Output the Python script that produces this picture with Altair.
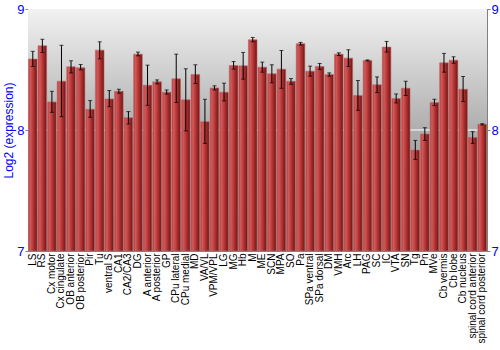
import altair as alt
import pandas as pd

regions = ["LS", "RS", "Cx motor", "Cx cingulate", "OB anterior", "OB posterior", "Pir", "Tu",
           "ventral S", "CA1", "CA2/CA3", "DG", "A anterior", "A posterior", "GP", "CPu lateral",
           "CPu medial", "MD", "VA/VL", "VPM/VPL", "LG", "MG", "Hb", "M", "ME", "SCN", "MPA", "SO",
           "Pa", "SPa ventral", "SPa dorsal", "DM", "VMH", "Arc", "LH", "PAG", "SC", "IC", "VTA",
           "SN", "Tg", "Pn", "MVe", "Cb vermis", "Cb lobe", "Cb nucleus", "spinal cord anterior",
           "spinal cord posterior"]
means = [8.586, 8.696, 8.232, 8.403, 8.522, 8.514, 8.171, 8.660,
         8.257, 8.320, 8.102, 8.627, 8.370, 8.398, 8.312, 8.423,
         8.249, 8.459, 8.069, 8.348, 8.312, 8.533, 8.530, 8.746,
         8.519, 8.464, 8.503, 8.403, 8.713, 8.486, 8.525, 8.459,
         8.627, 8.594, 8.285, 8.575, 8.373, 8.685, 8.260, 8.345,
         7.834, 7.967, 8.227, 8.555, 8.577, 8.337, 7.939, 8.047]
err_hi = [8.65, 8.75, 8.32, 8.70, 8.572, 8.541, 8.243, 8.729,
          8.326, 8.337, 8.152, 8.644, 8.536, 8.414, 8.331, 8.627,
          8.506, 8.539, 8.254, 8.365, 8.387, 8.566, 8.641, 8.765,
          8.561, 8.539, 8.657, 8.425, 8.724, 8.528, 8.550, 8.472,
          8.638, 8.663, 8.409, 8.579, 8.439, 8.732, 8.298, 8.403,
          7.914, 8.019, 8.254, 8.633, 8.605, 8.442, 7.986, 8.052]
err_lo = [8.525, 8.64, 8.146, 8.11, 8.472, 8.497, 8.105, 8.588,
          8.193, 8.304, 8.05, 8.613, 8.204, 8.381, 8.296, 8.227,
          7.992, 8.384, 7.889, 8.331, 8.240, 8.503, 8.420, 8.729,
          8.478, 8.390, 8.345, 8.378, 8.702, 8.445, 8.500, 8.445,
          8.616, 8.525, 8.163, 8.571, 8.309, 8.644, 8.224, 8.285,
          7.757, 7.914, 8.202, 8.478, 8.552, 8.235, 7.889, 8.042]
y_ticks = [7, 8, 9]

df = pd.DataFrame({"region": regions, "mean": means, "hi": err_hi, "lo": err_lo, "base": 7.0})
tick_df = pd.DataFrame({"v": y_ticks})

blue = "#0000ff"
xaxis = alt.Axis(labelAngle=270, labelFontSize=10, labelColor="#000000",
                 labelFont="Liberation Sans", ticks=False, domain=False,
                 labelPadding=2, labelAlign="right", labelBaseline="middle",
                 labelOverlap=False, labelLimit=200)
xenc = alt.X("region:N", sort=regions, title=None,
             scale=alt.Scale(paddingInner=0.1, paddingOuter=0.05), axis=xaxis)
yscale = alt.Scale(domain=[7, 9], nice=False, zero=False)


def yaxis(orient, title):
    kw = dict(orient=orient, labelColor=blue, labelFontSize=13, labelFont="Liberation Sans",
              values=y_ticks, labelExpr="round(datum.value) + ''", grid=False,
              domainColor="#808080", tickColor="#808080", tickSize=3, labelPadding=1,
              labelOverlap=False, labelFlush=False)
    if title:
        kw.update(title=title, titleColor=blue, titleFontSize=12, titleFont="Liberation Sans",
                  titleFontWeight="normal", titlePadding=1)
    else:
        kw.update(title=None)
    return alt.Axis(**kw)


bg = alt.Chart(df).mark_rect(
    fill=alt.Gradient(gradient="linear", x1=0, y1=0, x2=0, y2=1,
                      stops=[alt.GradientStop(offset=0, color="#f2f2f2"),
                             alt.GradientStop(offset=0.5, color="#aeaeae"),
                             alt.GradientStop(offset=1, color="#8a8a8a")])
).encode(x=alt.value(0), x2=alt.value("width"), y=alt.value(0), y2=alt.value("height"))

grid = alt.Chart(tick_df).mark_rule(color="#ffffff", strokeWidth=1.2).encode(
    y=alt.Y("v:Q", scale=yscale, axis=yaxis("left", "Log2 (expression)"))
).transform_filter("datum.v == 8")

bars = alt.Chart(df).mark_bar(
    fill=alt.Gradient(gradient="linear", x1=0, y1=0, x2=1, y2=0,
                      stops=[alt.GradientStop(offset=0, color="#b23a3a"),
                             alt.GradientStop(offset=0.2, color="#d25a5a"),
                             alt.GradientStop(offset=0.55, color="#b53434"),
                             alt.GradientStop(offset=1, color="#6e1414")]),
    stroke="#c06868", strokeWidth=0.6
).encode(x=xenc, y=alt.Y("mean:Q", scale=yscale, axis=None), y2="base:Q")

rules = alt.Chart(df).mark_rule(color="#000000", strokeWidth=1).encode(
    x=xenc, y=alt.Y("lo:Q", scale=yscale, axis=None), y2="hi:Q")
cap_hi = alt.Chart(df).mark_tick(color="#000000", thickness=1, size=4, orient="horizontal").encode(
    x=xenc, y=alt.Y("hi:Q", scale=yscale, axis=None))
cap_lo = alt.Chart(df).mark_tick(color="#000000", thickness=1, size=4, orient="horizontal").encode(
    x=xenc, y=alt.Y("lo:Q", scale=yscale, axis=None))

right = alt.Chart(tick_df).mark_rule(opacity=0).encode(
    y=alt.Y("v:Q", scale=yscale, axis=yaxis("right", None))
)

chart = alt.layer(bg, grid, bars, rules, cap_hi, cap_lo, right).resolve_axis(
    y="independent").resolve_scale(y="shared").properties(
    width=459, height=242,
    autosize=alt.AutoSizeParams(type="none"),
    padding={"left": 28, "top": 9, "right": 13, "bottom": 99},
    background="#ffffff"
).configure_view(stroke="#808080", strokeWidth=1)

chart.save("out.html", embed_options={"renderer": "svg", "actions": False})
